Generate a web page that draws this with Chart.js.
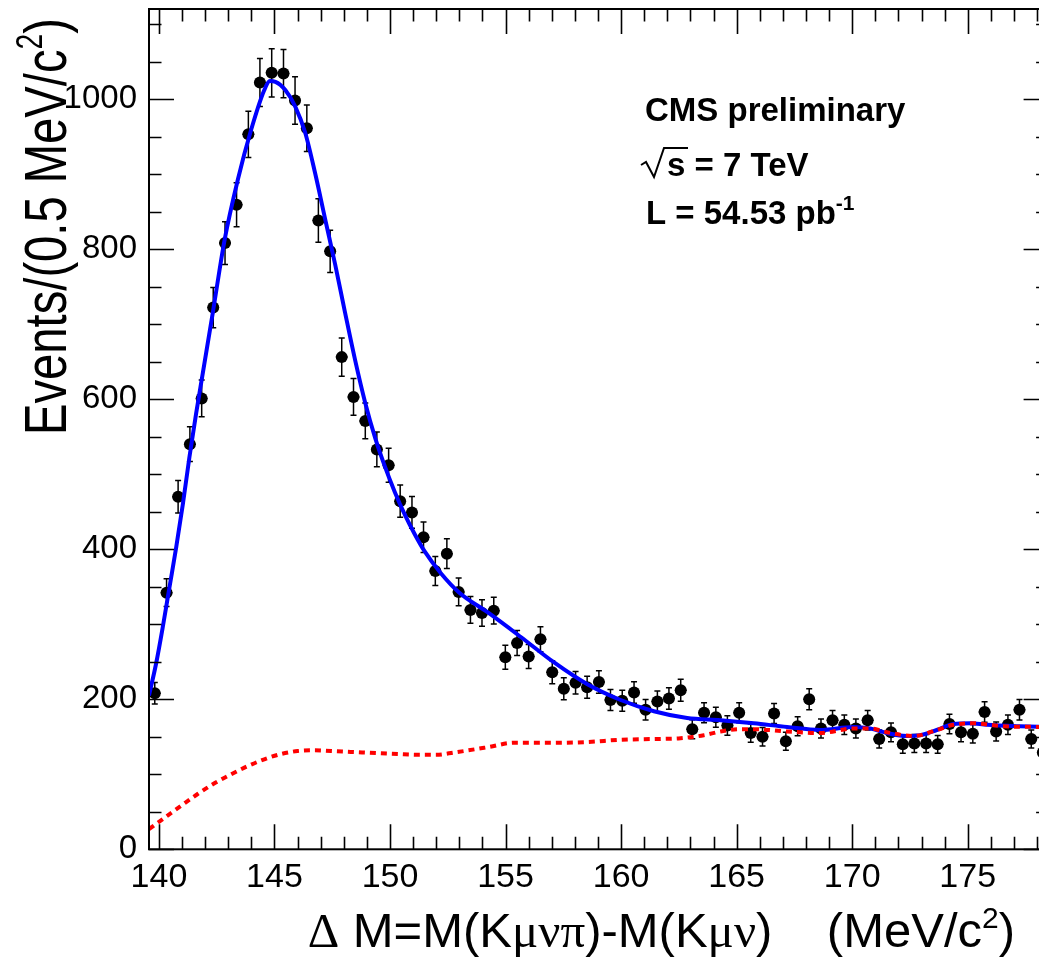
<!DOCTYPE html>
<html>
<head>
<meta charset="utf-8">
<script src="https://cdn.jsdelivr.net/npm/chart.js@4.4.0/dist/chart.umd.min.js"></script>
<style>
html, body { margin: 0; padding: 0; background: #fff; overflow: hidden; width: 1039px; height: 960px; }
#wrap { width: 1052px; height: 960px; }
</style>
</head>
<body>
<div id="wrap"><canvas id="grafica" width="1052" height="960"></canvas></div>
<script>
// Bin centres of the Delta M histogram (MeV/c^2)
const binCentres = [
    139.82, 140.33, 140.83, 141.34, 141.85, 142.35, 142.86, 143.36, 143.87, 144.37,
    144.88, 145.39, 145.89, 146.40, 146.90, 147.41, 147.91, 148.42, 148.93, 149.43,
    149.94, 150.44, 150.95, 151.45, 151.96, 152.46, 152.97, 153.48, 153.98, 154.49,
    154.99, 155.50, 156.00, 156.51, 157.02, 157.52, 158.03, 158.53, 159.04, 159.54,
    160.05, 160.56, 161.06, 161.57, 162.07, 162.58, 163.08, 163.59, 164.10, 164.60,
    165.11, 165.61, 166.12, 166.62, 167.13, 167.64, 168.14, 168.65, 169.15, 169.66,
    170.16, 170.67, 171.17, 171.68, 172.19, 172.69, 173.20, 173.70, 174.21, 174.71,
    175.22, 175.73, 176.23, 176.74, 177.24, 177.75, 178.25
];
// Events per bin
const events = [
    208, 342, 470, 540, 601, 722, 808, 859, 953, 1022,
    1035, 1034, 998, 961, 838, 797, 656, 603, 571, 533,
    512, 464, 449, 416, 371, 394, 343, 319, 315, 318,
    256, 275, 257, 280, 236, 214, 222, 216, 223, 199,
    198, 209, 186, 197, 201, 212, 160, 182, 176, 165,
    182, 155, 150, 181, 144, 164, 200, 161, 172, 166,
    161, 172, 147, 156, 140, 141, 141, 140, 167, 156,
    154, 183, 157, 166, 186, 147, 129
];
// Total fit (blue line)
const fitX = [139.57, 139.88, 140.17, 140.46, 140.75, 141.04, 141.32, 141.61, 141.9, 142.33,
    142.84, 143.41, 143.99, 144.56, 144.8, 145.04, 145.47, 145.9, 146.33, 146.76,
    147.2, 147.63, 148.05, 148.49, 148.92, 149.35, 149.78, 150.21, 150.64, 151.07,
    151.5, 152.2, 153.0, 154.22, 155.66, 157.1, 158.54, 159.98, 161.42, 162.86,
    164.3, 165.74, 167.18, 168.62, 170.06, 170.78, 171.5, 172.37, 172.94, 173.66,
    174.38, 175.1, 175.82, 177.26, 178.5];
const fitY = [205, 248, 297, 350, 403, 461, 523, 581, 635, 715,
    812, 892, 959, 1012, 1024, 1023, 1012, 990, 955, 901,
    839, 779, 716, 652, 596, 549, 510, 476, 446, 420,
    397, 368, 342, 316, 283, 249, 220, 199, 184, 175,
    172, 168, 163, 159, 163, 161, 155, 151, 152, 159,
    167, 168, 166, 164, 163];
// Background component (red dashed line)
const bkgX = [139.57, 140.24, 140.96, 141.69, 142.4, 143.12, 143.85, 144.56, 145.28, 146.0,
    146.72, 147.45, 148.89, 150.33, 151.2, 152.0, 152.77, 154.22, 155.37, 157.1,
    158.54, 159.98, 161.42, 162.57, 163.58, 164.3, 165.16, 165.74, 167.18, 168.62,
    170.06, 170.78, 171.5, 172.65, 173.66, 174.38, 175.24, 176.54, 178.5];
const bkgY = [27, 42, 58, 74, 88, 100, 111, 120, 127, 131,
    132, 131, 129, 127, 126, 126, 129, 136, 142, 142,
    143, 146, 147, 148, 152, 157, 160, 160, 157, 155,
    161, 161, 156, 151, 159, 166, 168, 164, 163];

const ticksX = [140, 145, 150, 155, 160, 165, 170, 175];
const ticksY = [0, 200, 400, 600, 800, 1000];

const binWidth = 0.5057;
const SANS = '"Liberation Sans", Arial, Helvetica, sans-serif';
const SERIF = '"Liberation Serif", "Times New Roman", serif';

// draw text made of pieces: [text, font, rise]
function drawRich(ctx, parts, x, y, align) {
    let total = richWidth(ctx, parts);
    let cx = align === 'right' ? x - total : x;
    parts.forEach(p => {
        ctx.font = p[1];
        ctx.fillText(p[0], cx, y - (p[2] || 0));
        cx += ctx.measureText(p[0]).width;
    });
    return total;
}

function richWidth(ctx, parts) {
    let total = 0;
    parts.forEach(p => { ctx.font = p[1]; total += ctx.measureText(p[0]).width; });
    return total;
}

const rootStyle = {
    id: 'rootStyle',
    beforeDatasetsDraw(chart) {
        // error bars (sqrt N) under the markers
        const ctx = chart.ctx;
        const xs = chart.scales.x, ys = chart.scales.y, a = chart.chartArea;
        ctx.save();
        ctx.beginPath();
        ctx.rect(a.left, a.top, a.right - a.left, a.bottom - a.top);
        ctx.clip();
        ctx.strokeStyle = '#000';
        ctx.lineWidth = 1.5;
        binCentres.forEach((c, i) => {
            const n = events[i];
            const err = Math.sqrt(n);
            const px = xs.getPixelForValue(c);
            const yHi = ys.getPixelForValue(n + err);
            const yLo = ys.getPixelForValue(n - err);
            const py = ys.getPixelForValue(n);
            const xl = xs.getPixelForValue(c - binWidth / 2);
            const xr = xs.getPixelForValue(c + binWidth / 2);
            ctx.beginPath();
            ctx.moveTo(px, yHi); ctx.lineTo(px, yLo);
            ctx.moveTo(px - 3, yHi); ctx.lineTo(px + 3, yHi);
            ctx.moveTo(px - 3, yLo); ctx.lineTo(px + 3, yLo);
            ctx.moveTo(xl, py); ctx.lineTo(xr, py);
            ctx.stroke();
        });
        ctx.restore();
    },
    afterDatasetsDraw(chart) {
        // frame with inward ticks on all four sides
        const ctx = chart.ctx;
        const xs = chart.scales.x, ys = chart.scales.y, a = chart.chartArea;
        ctx.save();
        ctx.strokeStyle = '#000';
        ctx.lineWidth = 2;
        ctx.strokeRect(a.left, a.top, a.right - a.left, a.bottom - a.top);
        ctx.lineWidth = 1.6;
        ctx.beginPath();
        for (let v = Math.ceil(xs.min); v <= xs.max; v++) {
            const len = v % 5 === 0 ? 25 : 12.5;
            const px = Math.round(xs.getPixelForValue(v)) + 0.5;
            ctx.moveTo(px, a.bottom); ctx.lineTo(px, a.bottom - len);
            ctx.moveTo(px, a.top); ctx.lineTo(px, a.top + len);
        }
        for (let v = 0; v <= ys.max; v += 50) {
            const len = v % 200 === 0 ? 25 : 12.5;
            const py = Math.round(ys.getPixelForValue(v)) + 0.5;
            ctx.moveTo(a.left, py); ctx.lineTo(a.left + len, py);
            ctx.moveTo(a.right, py); ctx.lineTo(a.right - len, py);
        }
        ctx.stroke();
        ctx.restore();
    },
    afterDraw(chart) {
        const ctx = chart.ctx;
        ctx.save();
        ctx.fillStyle = '#000';
        ctx.strokeStyle = '#000';
        ctx.textBaseline = 'alphabetic';

        // x axis title
        const big = '49px ' + SANS, bigSerif = '49px ' + SERIF, sup = '30px ' + SANS;
        drawRich(ctx, [
            ['\u0394', bigSerif], [' M=M(K', big], ['\u03bc\u03bd\u03c0', bigSerif], [')-M(K', big],
            ['\u03bc\u03bd', bigSerif], [')    (MeV/c', big], ['2', sup, 19], [')', big]
        ], 1015, 947, 'right');

        // y axis title (condensed like the original)
        const yParts = [['Events/(0.5 MeV/c', '60px ' + SANS], ['2', '36px ' + SANS, 24], [')', '60px ' + SANS]];
        const w = richWidth(ctx, yParts);
        ctx.save();
        ctx.translate(66, 18);
        ctx.rotate(-Math.PI / 2);
        ctx.scale(417 / w, 1);
        drawRich(ctx, yParts, 0, 0, 'right');
        ctx.restore();

        // labels
        ctx.font = 'bold 33px ' + SANS;
        ctx.fillText('CMS preliminary', 645, 121);
        // square root sign drawn as strokes, like ROOT does
        ctx.lineWidth = 2;
        ctx.lineJoin = 'miter';
        ctx.beginPath();
        ctx.moveTo(641, 165);
        ctx.lineTo(646, 162);
        ctx.lineTo(654, 177);
        ctx.lineTo(664, 148);
        ctx.lineTo(688, 148);
        ctx.stroke();
        ctx.font = 'bold 33px ' + SANS;
        ctx.fillText('s = 7 TeV', 667, 176);
        drawRich(ctx, [['L = 54.53 pb', 'bold 33px ' + SANS], ['-1', 'bold 21px ' + SANS, 14]], 646, 224, 'left');
        ctx.restore();
    }
};

const ctx = document.getElementById('grafica');

new Chart(ctx, {
    type: 'scatter',
    data: {
        datasets: [
            {
                label: 'background',
                type: 'line',
                data: bkgX.map((x, i) => ({ x: x, y: bkgY[i] })),
                borderColor: '#ff0000',
                borderWidth: 4,
                borderDash: [6, 5],
                pointRadius: 0,
                cubicInterpolationMode: 'monotone',
                fill: false,
                order: 1
            },
            {
                label: 'fit',
                type: 'line',
                data: fitX.map((x, i) => ({ x: x, y: fitY[i] })),
                borderColor: '#0000ff',
                borderWidth: 4,
                pointRadius: 0,
                cubicInterpolationMode: 'monotone',
                fill: false,
                order: 2
            },
            {
                label: 'data',
                data: binCentres.map((x, i) => ({ x: x, y: events[i] })),
                backgroundColor: '#000',
                borderWidth: 0,
                pointRadius: 6,
                pointHoverRadius: 6,
                order: 3
            }
        ]
    },
    options: {
        responsive: false,
        animation: false,
        devicePixelRatio: 1,
        events: [],
        layout: { padding: { top: 9, right: 3.4, left: 0, bottom: 0 }, autoPadding: false },
        plugins: {
            legend: { display: false },
            tooltip: { enabled: false }
        },
        scales: {
            x: {
                type: 'linear',
                min: 139.57,
                max: 178.5,
                grid: { display: false, drawTicks: false },
                border: { display: false },
                afterBuildTicks: s => { s.ticks = ticksX.map(v => ({ value: v })); },
                afterFit: s => {
                    s.height = 110.7;
                    s.paddingLeft = 0; s.paddingRight = 0; s.paddingTop = 0; s.paddingBottom = 0;
                },
                ticks: {
                    color: '#000',
                    padding: 8,
                    maxRotation: 0,
                    font: { family: SANS, size: 34 },
                    callback: v => String(v)
                }
            },
            y: {
                type: 'linear',
                min: 0,
                max: 1120,
                grid: { display: false, drawTicks: false },
                border: { display: false },
                afterBuildTicks: s => { s.ticks = ticksY.map(v => ({ value: v })); },
                afterFit: s => {
                    s.width = 149;
                    s.paddingLeft = 0; s.paddingRight = 0; s.paddingTop = 0; s.paddingBottom = 0;
                },
                ticks: {
                    color: '#000',
                    padding: 12,
                    font: { family: SANS, size: 33 },
                    callback: v => String(v)
                }
            }
        }
    },
    plugins: [rootStyle]
});
</script>
</body>
</html>
